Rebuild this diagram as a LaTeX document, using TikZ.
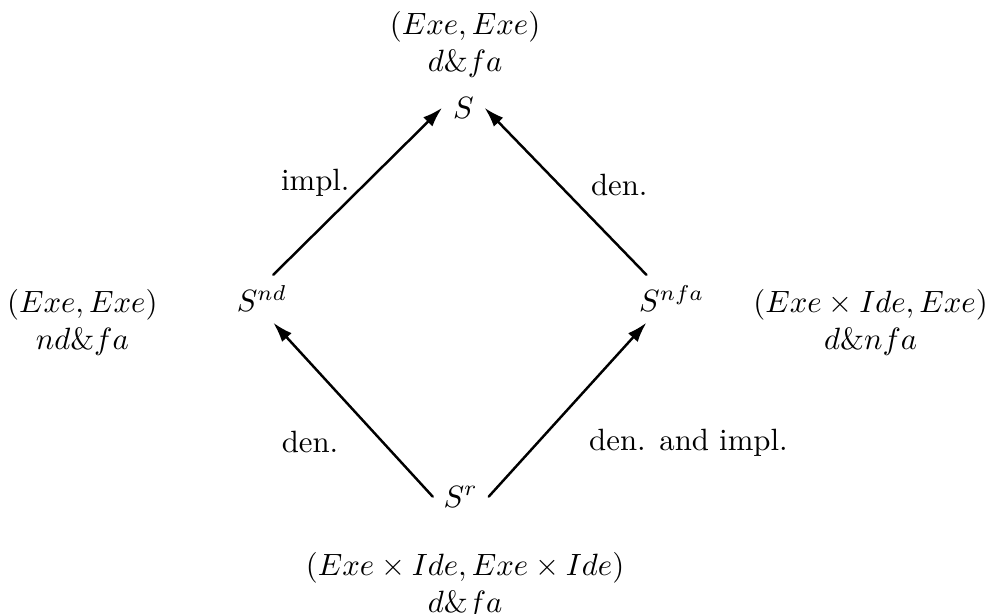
\documentclass[tikz,border=0pt]{standalone}
\usetikzlibrary{arrows.meta}
\begin{document}
\begin{tikzpicture}[line cap=round, line join=round,
    arr/.style={-{Latex[length=6.5pt,width=4.2pt]}, line width=0.8pt},
    lab/.style={align=center}]
    % 画布大小
    \useasboundingbox (0,0) rectangle (11.28,7.01);

    % 四个语义
    \node[anchor=base] (s)    at (5.29,5.66) {$S$};
    \node[anchor=base] (snd)  at (2.99,3.45) {$S^{nd}$};
    \node[anchor=base] (snfa) at (7.67,3.45) {$S^{nfa}$};
    \node[anchor=base] (sr)   at (5.26,1.22) {$S^{r}$};

    % 域与性质
    \node[lab] (ts) at (5.31,6.50) {$(Exe,Exe)$\\ $d\&fa$};
    \node[lab] (tnd) at (0.94,3.33) {$(Exe,Exe)$\\ $nd\&fa$};
    \node[lab] (tnfa) at (9.94,3.33) {$(Exe\times Ide,Exe)$\\ $d\&nfa$};
    \node[lab] (tr) at (5.31,0.33) {$(Exe\times Ide,Exe\times Ide)$\\ $d\&fa$};

    % 箭头
    \draw[arr] ([xshift=1.3mm]snd.north) -- (s.west);
    \draw[arr] ([xshift=-2.9mm]snfa.north) -- (s.east);
    \draw[arr] (sr.west) -- ([xshift=1.3mm]snd.south);
    \draw[arr] (sr.east) -- ([xshift=-2.9mm]snfa.south);

    % 箭头旁的说明
    \node (l1) at (3.60,4.92) {impl.};
    \node (l2) at (7.07,4.90) {den.};
    \node (l3) at (3.54,1.96) {den.};
    \node (l4) at (7.86,1.96) {den. and impl.};
\end{tikzpicture}
\end{document}
